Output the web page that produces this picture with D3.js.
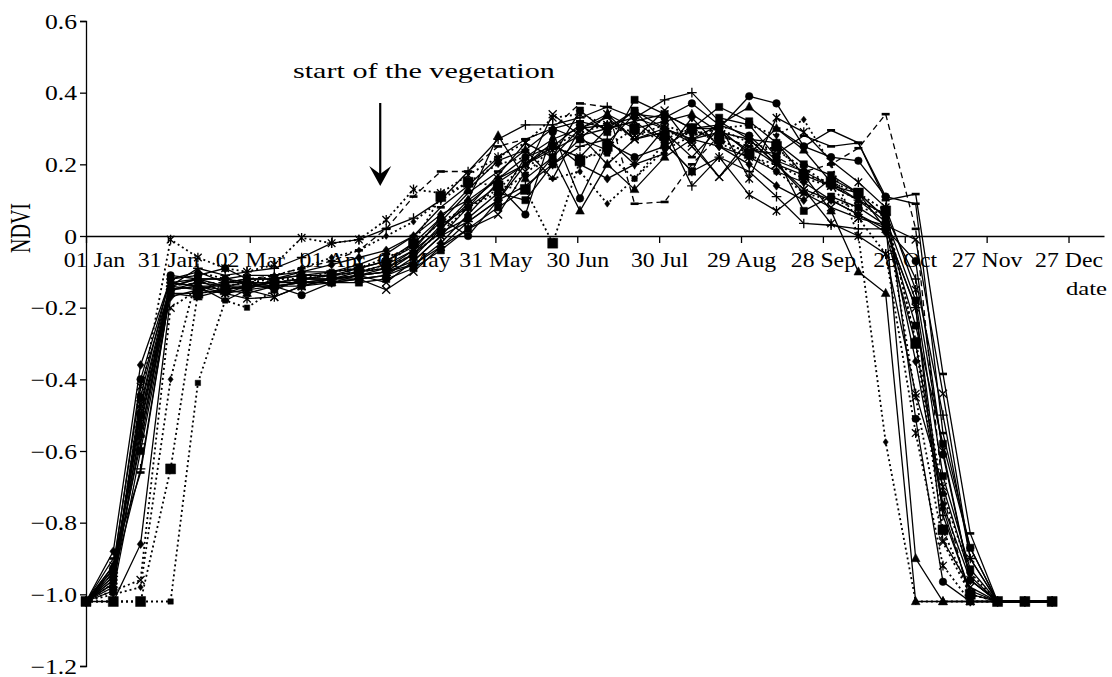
<!DOCTYPE html>
<html>
<head>
<meta charset="utf-8">
<script src="https://cdn.jsdelivr.net/npm/d3@7"></script>
<style>
body { margin: 0; background: #fff; }
text { font-family: "Liberation Serif", "DejaVu Serif", serif; fill: #000; }
</style>
</head>
<body>
<div id="graph"></div>
<script>
var w = 1112, h = 677

// dekad dates of the composites
var dekads = ['01-01','01-11','01-21','02-01','02-11','02-21','03-01','03-11','03-21',
  '04-01','04-11','04-21','05-01','05-11','05-21','06-01','06-11','06-21',
  '07-01','07-11','07-21','08-01','08-11','08-21','09-01','09-11','09-21',
  '10-01','10-11','10-21','11-01','11-11','11-21','12-01','12-11','12-21']

var tickDates = ['01-01','01-31','03-02','04-01','05-01','05-31','06-30','07-30','08-29','09-28','10-28','11-27','12-27']
var tickLabels = ['01 Jan','31 Jan','02 Mar','01 Apr','01 May','31 May','30 Jun','30 Jul','29 Aug','28 Sep','28 Oct','27 Nov','27 Dec']

var yTicks = [-1.2, -1.0, -0.8, -0.6, -0.4, -0.2, 0, 0.2, 0.4, 0.6]
var yLabels = ['\u22121.2','\u22121.0','\u22120.8','\u22120.6','\u22120.4','\u22120.2','0','0.2','0.4','0.6']

// NDVI per series, one value per dekad (Jan-Feb | Mar-Apr | May-Jun | Jul-Aug | Sep-Oct | Nov-Dec)
var s1  = [-1.02,-0.88,-0.36,-0.12,-0.10,-0.13, -0.12,-0.12,-0.10,-0.08,-0.06,-0.04, 0.00,0.06,0.10,0.16,0.22,0.27, 0.30,0.31,0.33,0.30,0.27,0.25, 0.22,0.18,0.15,0.10,0.06,0.01, -0.30,-0.75,-0.96,-1.02,-1.02,-1.02]
var s2  = [-1.02,-0.95,-0.50,-0.15,-0.13,-0.14, -0.13,-0.15,-0.12,-0.11,-0.10,-0.09, -0.05,0.01,0.05,0.12,0.10,0.20, 0.27,0.24,0.38,0.34,0.30,0.36, 0.32,0.26,0.20,0.17,0.12,0.05, -0.18,-0.67,-0.93,-1.02,-1.02,-1.02]
var s3  = [-1.02,-0.92,-0.55,-0.16,-0.17,-0.15, -0.16,-0.14,-0.13,-0.13,-0.12,-0.11, -0.06,0.02,0.10,0.28,0.16,0.22, 0.07,0.20,0.13,0.22,0.27,0.31, 0.36,0.30,0.24,0.15,0.10,0.04, -0.90,-1.02,-1.02,-1.02,-1.02,-1.02]
var s4  = [-1.02,-0.97,-0.48,-0.14,-0.12,-0.16, -0.14,-0.13,-0.13,-0.12,-0.12,-0.15, -0.10,-0.03,0.02,0.06,0.18,0.34, 0.28,0.20,0.27,0.30,0.26,0.165, 0.27,0.20,0.13,0.10,0.06,0.02, -0.20,-0.85,-0.98,-1.02,-1.02,-1.02]
var s5  = [-1.02,-0.93,-0.52,-0.13,-0.14,-0.16, -0.175,-0.17,-0.14,-0.12,-0.11,-0.10, -0.07,0.00,0.04,0.10,0.20,0.25, 0.22,0.30,0.32,0.26,0.18,0.22, 0.115,0.07,0.13,0.035,0.00,-0.05, -0.44,-0.70,-0.95,-1.02,-1.02,-1.02]
var s6  = [-1.02,-0.96,-0.45,-0.11,-0.12,-0.12, -0.13,-0.14,-0.165,-0.13,-0.11,-0.10, -0.05,0.03,0.08,0.14,0.06,0.29, 0.105,0.26,0.22,0.25,0.30,0.30, 0.39,0.37,0.25,0.22,0.21,0.11, -0.51,-0.965,-1.02,-1.02,-1.02,-1.02]
var s7  = [-1.02,-0.94,-0.58,-0.14,-0.09,-0.11, -0.10,-0.09,-0.06,-0.02,-0.01,0.02, 0.05,0.10,0.18,0.27,0.31,0.31, 0.33,0.36,0.33,0.38,0.40,0.32, 0.27,0.20,0.17,0.14,0.10,0.06, -0.12,-0.50,-0.90,-1.02,-1.02,-1.02]
var s8  = [-1.02,-0.90,-0.66,-0.15,-0.14,-0.18, -0.15,-0.12,-0.11,-0.10,-0.09,-0.07, -0.03,0.04,0.12,0.18,0.24,0.16, 0.30,0.33,0.27,0.29,0.22,0.30, 0.23,0.30,0.25,0.295,0.26,0.10, 0.117,-0.385,-0.83,-1.02,-1.02,-1.02]
var s9  = [-1.02,-1.02,-0.86,-0.17,-0.15,-0.16, -0.15,-0.14,-0.13,-0.12,-0.11,-0.10, -0.08,-0.02,0.06,0.15,0.20,0.26, 0.20,0.16,0.20,0.23,0.33,0.25, 0.20,0.14,0.10,0.16,0.12,0.05, -0.35,-0.76,-1.00,-1.02,-1.02,-1.02]
var s10 = [-1.02,-0.99,-0.60,-0.16,-0.16,-0.15, -0.14,-0.14,-0.14,-0.13,-0.13,-0.12, -0.09,-0.04,0.02,0.08,0.13,0.22, 0.35,0.29,0.35,0.26,0.18,0.33, 0.31,0.22,0.07,0.11,0.08,0.03, -0.25,-0.58,-0.87,-1.02,-1.02,-1.02]
var s11 = [-1.02,-0.98,-0.53,-0.14,-0.15,-0.13, -0.13,-0.13,-0.12,-0.12,-0.11,-0.09, -0.04,0.05,0.13,0.21,0.24,0.30, 0.27,0.34,0.30,0.32,0.34,0.29, 0.27,0.26,0.17,0.07,-0.10,-0.16, -1.02,-1.02,-1.02,-1.02,-1.02,-1.02]
var s12 = [-1.02,-0.96,-0.47,-0.13,-0.14,-0.14, -0.15,-0.17,-0.14,-0.12,-0.11,-0.13, -0.07,0.00,0.08,0.17,0.26,0.22, 0.30,0.34,0.27,0.35,0.25,0.165, 0.25,0.20,0.12,0.08,0.05,0.03, -0.01,-0.44,-0.90,-1.02,-1.02,-1.02]
var s13 = [-1.02,-0.92,-0.42,-0.14,-0.12,-0.14, -0.14,-0.13,-0.12,-0.12,-0.10,-0.08, -0.04,0.02,0.09,0.16,0.20,0.24, 0.28,0.30,0.32,0.34,0.30,0.31, 0.16,0.33,0.29,0.21,0.15,0.08, -0.15,-0.60,-0.96,-1.02,-1.02,-1.02]
var s14 = [-1.02,-0.93,-0.40,-0.12,-0.11,-0.09, -0.12,-0.12,-0.11,-0.11,-0.09,-0.07, -0.02,0.05,0.00,0.10,0.22,0.25, 0.31,0.26,0.34,0.33,0.37,0.31, 0.28,0.21,0.18,0.14,0.12,0.02, -0.07,-0.61,-0.96,-1.02,-1.02,-1.02]
var s15 = [-1.02,-0.95,-0.65,-0.15,-0.14,-0.15, -0.14,-0.14,-0.13,-0.13,-0.12,-0.11, -0.08,-0.03,0.04,0.10,0.14,0.20, 0.25,0.27,0.20,0.30,0.14,0.22, 0.18,0.11,0.035,0.03,0.02,0.02, -0.20,-0.78,-0.99,-1.02,-1.02,-1.02]
var s16 = [-1.02,-0.97,-0.56,-0.13,-0.12,-0.12, -0.11,-0.11,-0.10,-0.10,-0.08,-0.05, 0.00,0.08,0.14,0.22,0.27,0.30, 0.32,0.30,0.35,0.30,0.27,0.29, 0.24,0.23,0.28,0.25,0.26,0.11, 0.09,-0.55,-0.87,-1.02,-1.02,-1.02]
var s17 = [-1.02,-1.00,-0.98,-0.40,-0.10,-0.12, -0.13,-0.11,-0.09,-0.06,-0.04,0.00, 0.04,0.10,0.15,0.20,0.22,0.16, 0.18,0.09,0.16,0.24,0.28,0.30, 0.31,0.28,0.325,0.20,0.00,-0.575, -1.02,-1.02,-1.02,-1.02,-1.02,-1.02]
var s18 = [-1.02,-1.02,-1.02,-0.65,-0.16,-0.15, -0.14,-0.13,-0.12,-0.11,-0.10,-0.08, -0.02,0.11,0.15,0.14,0.13,-0.02, 0.21,0.25,0.30,0.28,0.30,0.27, 0.23,0.25,0.17,0.15,0.12,0.07, -0.30,-0.82,-1.00,-1.02,-1.02,-1.02]
var s19 = [-1.02,-1.02,-1.02,-1.02,-0.41,-0.18, -0.20,-0.15,-0.12,-0.10,-0.09,-0.06, -0.03,0.04,0.08,0.12,0.17,0.25, 0.22,0.23,0.16,0.26,0.29,0.27, 0.23,0.18,0.12,0.10,0.08,0.06, -0.29,-0.72,-0.94,-1.02,-1.02,-1.02]
var s20 = [-1.02,-0.99,-0.96,-0.20,-0.15,-0.14, -0.13,-0.12,-0.12,-0.11,-0.10,-0.09, -0.05,0.01,0.08,0.13,0.20,0.25, 0.29,0.31,0.28,0.31,0.28,0.30, 0.26,0.24,0.19,0.14,0.10,0.06, -0.45,-0.855,-1.00,-1.02,-1.02,-1.02]
var s21 = [-1.02,-0.94,-0.50,-0.14,-0.13,-0.13, -0.12,-0.11,-0.09,-0.07,-0.04,0.02, 0.11,0.18,0.18,0.25,0.27,0.30, 0.37,0.36,0.09,0.095,0.20,0.28, 0.25,0.22,0.18,0.20,0.245,0.34, 0.02,-0.72,-1.02,-1.02,-1.02,-1.02]
var s22 = [-1.02,-0.97,-0.45,-0.01,-0.06,-0.09, -0.10,-0.08,-0.005,-0.02,-0.01,0.045, 0.13,0.12,0.17,0.22,0.26,0.33, 0.34,0.31,0.29,0.27,0.30,0.26, 0.22,0.20,0.16,0.14,0.05,-0.05, -0.55,-0.92,-1.02,-1.02,-1.02,-1.02]

var series = [s1,s2,s3,s4,s5,s6,s7,s8,s9,s10,s11,s12,s13,s14,s15,s16,s17,s18,s19,s20,s21,s22]
var markers = ['diamond','square','triangle','x','star','circle','plus','dash',
  'diamond','square','triangle','x','star','circle','plus','dash',
  'diamondS','squareB','squareS','x','dash','star']
var dashes = ['','','','','','','','','','','','','','','','','2,3','2,3','2,3','2,3','6,4','2,3']

var parse = d3.utcParse('%Y-%m-%d')
function day(s){ return parse('2001-' + s) }

var x = d3.scaleUtc()
    .domain([day('01-01'), d3.utcDay.offset(day('01-01'), 373)])
    .range([86, 1104])
var y = d3.scaleLinear().domain([-1.2, 0.6]).range([666, 21])

var svg = d3.select('#graph').append('svg')
    .attr('width', w).attr('height', h)

// y axis
var yAxis = svg.append('g').attr('transform', 'translate(86,0)')
    .call(d3.axisLeft(y).tickValues(yTicks).tickSize(6).tickFormat(function(d, i){ return yLabels[i] }))
yAxis.select('.domain').attr('stroke', '#000').attr('stroke-width', 1.3)
yAxis.selectAll('.tick line').attr('stroke-width', 1.3)
yAxis.selectAll('.tick text')
    .attr('font-size', 21).attr('x', 0).attr('dy', '0.34em')
    .attr('transform', 'translate(-9,0) scale(1.22,1)')
    .style('font-family', '"Liberation Serif", serif')

// x axis through zero
var xAxis = svg.append('g').attr('transform', 'translate(0,' + y(0) + ')')
    .call(d3.axisBottom(x).tickValues(tickDates.map(day)).tickSize(7).tickSizeOuter(0)
      .tickFormat(function(d, i){ return tickLabels[i] }))
xAxis.select('.domain').attr('stroke-width', 1.3)
xAxis.selectAll('.tick line').attr('stroke-width', 1.3)
xAxis.selectAll('.tick text')
    .attr('font-size', 21).attr('y', 0).attr('dy', 0)
    .attr('transform', function(d, i){ return 'translate(' + (i == 0 ? 8 : 0) + ',31) scale(1.13,1)' })
    .style('font-family', '"Liberation Serif", serif')

// lines
var line = d3.line()
    .x(function(d, i){ return x(day(dekads[i])) })
    .y(function(d){ return y(d) })

var sym = {
  diamond: 'M0,-4.4L3.4,0L0,4.4L-3.4,0Z',
  diamondS: 'M0,-3.4L2.6,0L0,3.4L-2.6,0Z',
  square: 'M-3.6,-3.6H3.6V3.6H-3.6Z',
  squareB: 'M-5,-5H5V5H-5Z',
  squareS: 'M-2.7,-2.7H2.7V2.7H-2.7Z',
  triangle: 'M0,-5L4.4,3.2L-4.4,3.2Z',
  circle: 'M3.8,0A3.8,3.8 0 1,1 -3.8,0A3.8,3.8 0 1,1 3.8,0Z',
  x: 'M-4,-4L4,4M-4,4L4,-4',
  star: 'M-3.8,-3.8L3.8,3.8M-3.8,3.8L3.8,-3.8M0,-4.8V4.8',
  plus: 'M-4.8,0H4.8M0,-4.8V4.8',
  dash: 'M-4,0H4'
}
var stroked = {x: 1, star: 1, plus: 1, dash: 1}

var plot = svg.append('g')
series.forEach(function(s, k){
  plot.append('path')
      .attr('d', line(s))
      .attr('fill', 'none')
      .attr('stroke', '#000')
      .attr('stroke-width', dashes[k] == '2,3' ? 1.8 : 1.3)
      .attr('stroke-dasharray', dashes[k] || null)
})
series.forEach(function(s, k){
  var m = markers[k]
  plot.selectAll(null).data(s).enter().append('path')
      .attr('transform', function(d, i){ return 'translate(' + x(day(dekads[i])) + ',' + y(d) + ')' })
      .attr('d', sym[m])
      .attr('fill', stroked[m] ? 'none' : '#000')
      .attr('stroke', '#000')
      .attr('stroke-width', m == 'dash' ? 2.6 : (stroked[m] ? 1.3 : 0.5))
})

// annotation
svg.append('text')
    .attr('transform', 'translate(293,78) scale(1.37,1)')
    .attr('font-size', 22)
    .text('start of the vegetation')
var ax = x(day('04-21')) - 6
svg.append('line')
    .attr('x1', ax).attr('x2', ax).attr('y1', 103).attr('y2', 174)
    .attr('stroke', '#000').attr('stroke-width', 2.2)
svg.append('path')
    .attr('transform', 'translate(' + ax + ',186)')
    .attr('d', 'M0,0L-11,-20L0,-12L11,-20Z')
    .attr('fill', '#000')

// axis titles
svg.append('text')
    .attr('transform', 'translate(1107,295) scale(1.3,1)')
    .attr('text-anchor', 'end').attr('font-size', 19)
    .text('date')
svg.append('text')
    .attr('transform', 'translate(30,228) rotate(-90) scale(1,1.45)')
    .attr('text-anchor', 'middle').attr('font-size', 20)
    .text('NDVI')
</script>
</body>
</html>
